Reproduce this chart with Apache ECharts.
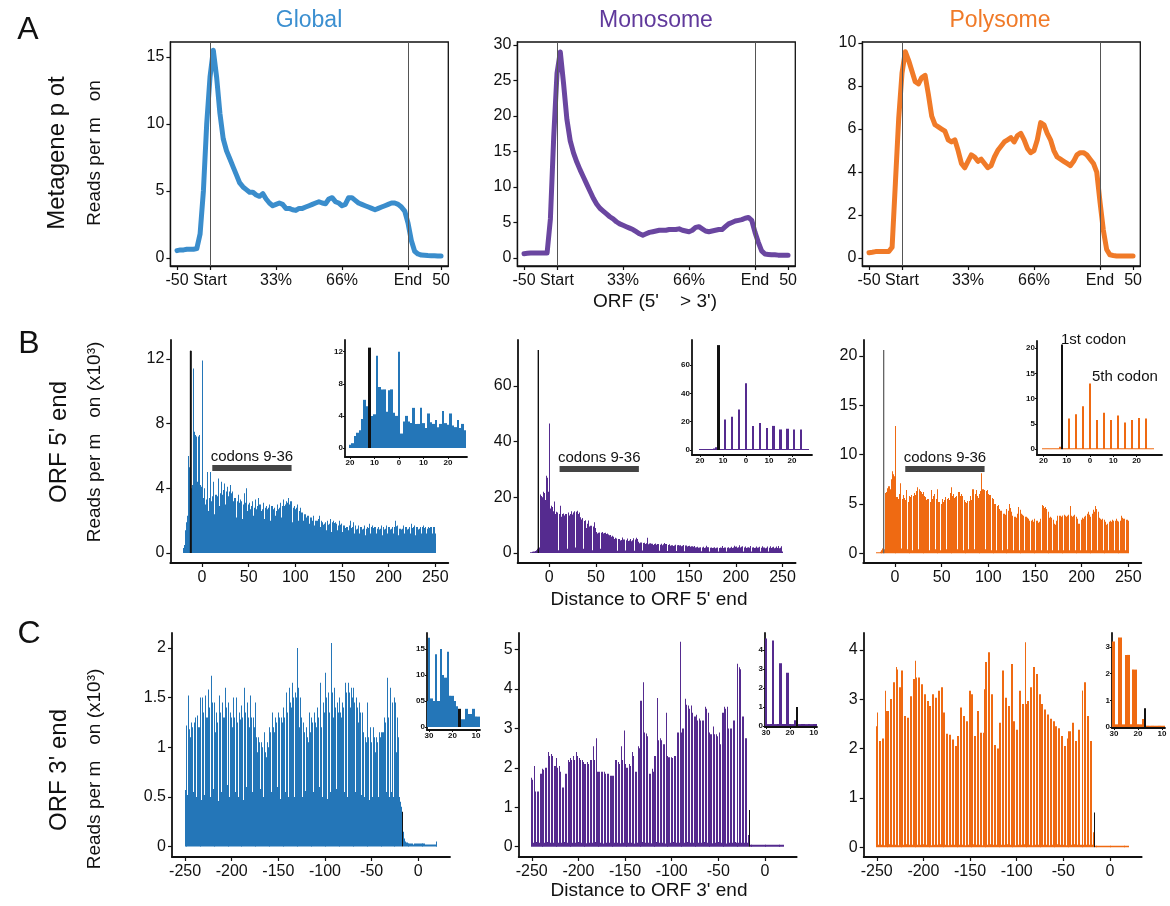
<!DOCTYPE html>
<html><head><meta charset="utf-8">
<script src="https://cdn.jsdelivr.net/npm/echarts@6/dist/echarts.min.js"></script>
<style>html,body{margin:0;padding:0;background:#fff}#c{width:1170px;height:906px}</style>
</head><body><div id="c"></div>
<script>
// ---------------- DATA ----------------
// Row A metagene profiles, x = -50..350 step 5 (Start=0, End=300)
const metaStart = -50, metaStep = 5;
const metaTicks = [-50, 0, 100, 200, 300, 350];
const metaTickLabels = ['-50', 'Start', '33%', '66%', 'End', '50'];
const metaGlobal = [0.55,0.6,0.6,0.65,0.65,0.65,0.7,1.8,5.0,10.0,
 13.5,15.5,13.5,10.8,8.9,8.0,7.4,6.8,6.2,5.6,
 5.3,5.1,4.9,4.9,4.7,4.6,4.8,4.4,4.1,3.9,
 4.0,4.1,4.0,3.7,3.7,3.6,3.55,3.7,3.7,3.8,
 3.9,4.0,4.1,4.2,4.1,4.05,4.4,4.5,4.2,4.1,
 3.9,4.0,4.5,4.5,4.3,4.1,4.0,3.9,3.8,3.7,
 3.6,3.7,3.8,3.9,4.0,4.1,4.1,4.0,3.8,3.5,
 2.6,1.3,0.5,0.3,0.22,0.2,0.18,0.17,0.16,0.15,0.15];
const metaMono = [0.6,0.65,0.7,0.7,0.7,0.7,0.7,0.7,5.5,17,
 26,29,24.5,19.5,16.5,14.8,13.5,12.4,11.4,10.4,
 9.4,8.4,7.6,7.0,6.6,6.2,5.8,5.5,5.1,4.8,
 4.6,4.4,4.2,4.0,3.7,3.4,3.2,3.4,3.6,3.7,
 3.8,3.9,3.9,3.9,4.0,4.0,4.0,4.1,3.9,3.8,
 3.7,3.9,4.3,4.4,4.1,3.8,3.7,3.8,3.9,4.0,
 4.0,4.4,4.8,5.0,5.2,5.3,5.4,5.6,5.7,5.3,
 3.6,2.2,1.0,0.55,0.5,0.45,0.45,0.4,0.4,0.4,0.4];
const metaPoly = [0.25,0.27,0.3,0.3,0.3,0.3,0.3,0.5,3.5,6.5,
 8.6,9.6,9.2,8.7,8.2,8.1,8.4,8.5,7.6,6.6,
 6.2,6.1,6.0,5.9,5.5,5.4,5.5,5.0,4.4,4.2,
 4.5,4.8,4.7,4.5,4.6,4.4,4.2,4.3,4.7,5.0,
 5.2,5.4,5.5,5.6,5.4,5.7,5.8,5.5,5.1,4.9,
 5.0,5.5,6.3,6.2,5.8,5.5,5.0,4.7,4.6,4.5,
 4.4,4.3,4.5,4.8,4.9,4.9,4.8,4.6,4.4,4.0,
 2.6,1.3,0.4,0.15,0.12,0.1,0.1,0.1,0.1,0.1,0.1];

// Row B: reads per nt, x = -20..250
const fiveStart = -20, fiveMarker = -12;
const fiveGlobal = [0.3,0.5,1.4,1.9,2.3,3.6,6.0,5.3,12.5,4.0,4.2,11.4,7.5,7.3,7.2,4.4,7.2,7.3,4.2,4.1,
 11.9,1.8,3.4, 4.0,3.0,3.3, 5.0,2.6,3.4, 5.0,3.2,3.5, 4.4,2.4,3.6, 3.6,3.0,3.5, 4.6,2.9,3.7, 4.4,3.6,3.9, 4.3,3.0,3.8, 4.1,3.5,3.8,
 4.2,2.9,3.7, 3.8,3.2,3.4, 3.4,2.2,3.2, 3.6,3.1,3.3, 3.2,2.1,3.0, 3.7,2.9,3.1, 4.0,2.6,3.0, 3.1,2.7,2.9, 3.2,2.3,2.8, 3.3,2.7,2.9,
 3.4,2.4,3.0, 3.0,2.6,2.7, 3.1,2.1,2.8, 2.9,2.7,2.8, 3.0,2.0,2.9, 2.9,2.6,2.7, 2.8,2.3,2.6, 3.0,2.7,2.8, 3.1,2.2,2.9, 3.3,2.9,3.0,
 3.2,2.4,3.1, 3.4,3.0,3.2, 3.2,1.9,2.8, 2.9,2.7,2.8, 3.0,2.0,2.6, 2.8,2.4,2.5, 2.5,2.0,2.4, 2.4,2.2,2.3, 2.3,1.8,2.2, 2.2,2.0,2.1,
 2.3,1.7,2.0, 2.0,2.0,2.1, 2.3,1.6,2.0, 1.9,1.75,1.8, 1.9,1.4,1.9, 2.0,1.75,1.8, 2.1,1.3,1.9, 2.0,1.85,1.9, 1.8,1.4,1.7, 2.0,1.75,1.8,
 1.8,1.3,1.7, 1.7,1.55,1.6, 1.6,1.4,1.7, 2.0,1.55,1.6, 1.9,1.2,1.7, 1.6,1.45,1.5, 1.7,1.2,1.6, 1.6,1.45,1.5, 1.7,1.1,1.5, 1.6,1.55,1.6,
 1.8,1.2,1.6, 1.7,1.55,1.6, 1.6,1.2,1.5, 1.6,1.45,1.5, 1.7,1.1,1.6, 1.5,1.45,1.5, 1.7,1.2,1.6, 1.6,1.45,1.5, 1.6,1.2,1.6, 2.0,1.65,1.7,
 1.6,1.1,1.5, 1.5,1.45,1.5, 1.7,1.2,1.6, 1.6,1.45,1.5, 1.6,1.2,1.6, 1.8,1.55,1.6, 1.7,1.1,1.6, 1.6,1.45,1.5, 1.6,1.2,1.6, 1.7,1.55,1.6,
 1.6,1.2,1.5, 1.6,1.55,1.6, 1.6,1.2,1.6, 1.6,1.2];
const fiveMono = [0.3,0.3,0.4,0.5,0.5,0.7,1.0,1.5,72.9,2.0,20.5,21.0,20.5,20.0,22.0,21.5,19.0,27.7,27.0,22.0,
 46.5,16.0,17.0, 16.5,15.0,15.5, 18.5,14.0,14.8, 14.5,1.0,14.0, 17.0,13.0,14.0, 14.2,13.5,14.0, 14.0,1.5,13.8, 14.5,13.5,14.0, 15.0,13.8,14.5, 15.0,2.0,14.8,
 15.2,14.0,14.5, 12.8,12.0,12.5, 12.5,1.5,11.5, 11.8,9.0,10.5, 11.7,9.5,9.8, 9.8,1.0,9.5, 11.0,8.0,9.0, 7.5,7.0,7.3, 7.4,1.5,7.3, 7.5,7.0,7.2,
 7.3,6.8,7.0, 6.6,1.0,6.4, 6.5,5.8,6.2, 5.8,5.0,5.5, 5.2,0.8,5.0, 5.0,4.5,4.7, 5.6,4.5,4.8, 4.8,0.9,4.6, 5.2,4.3,4.5, 5.0,4.2,4.6,
 5.3,0.8,4.8, 5.5,4.5,5.0, 4.0,3.5,3.8, 3.8,0.9,3.6, 3.7,3.2,3.5, 5.5,3.1,3.4, 3.5,0.8,3.3, 3.3,2.9,3.2, 3.4,3.0,3.2, 3.2,0.8,3.0,
 3.3,2.8,3.1, 3.6,2.9,3.2, 3.2,0.7,2.9, 3.1,2.6,2.8, 2.8,2.5,2.7, 3.0,0.7,2.8, 2.9,2.5,2.7, 2.8,2.4,2.6, 2.9,0.6,2.7, 2.7,2.3,2.5,
 2.6,2.2,2.4, 2.4,0.6,2.2, 2.5,2.0,2.1, 2.2,1.9,2.0, 2.1,0.6,2.0, 2.2,1.8,2.0, 2.6,1.9,2.1, 2.1,0.5,1.9, 2.0,1.8,1.9, 2.1,1.7,1.9,
 2.0,0.5,1.8, 2.0,1.7,1.9, 2.5,1.8,2.0, 2.0,0.5,1.9, 2.1,1.7,1.9, 2.2,1.8,2.0, 2.6,0.6,2.2, 2.3,1.9,2.1, 2.8,2.0,2.2, 2.4,0.5,2.0,
 2.3,1.8,2.0, 2.1,1.7,1.9, 2.5,0.5,2.0, 2.1,1.8,1.9, 2.3,1.9,2.0, 2.2,0.5,1.9, 2.4,1.8,2.0, 2.0,1.7,1.9, 2.3,0.5,1.9, 2.4,1.8,2.1,
 2.2,1.7,1.9, 2.3,0.5,1.8, 2.5,1.7,1.9, 2.4,0.5];
const fivePoly = [0.1,0.1,0.1,0.1,0.15,0.2,0.3,0.5,20.6,0.4,6.1,6.2,6.6,6.8,6.8,6.5,7.5,8.3,8.0,7.8,
 12.9,7.5,5.7, 5.7,5.5,6.0, 7.1,0.5,5.5, 5.9,5.6,5.4, 6.4,0.4,5.2, 5.8,5.5,5.7, 5.9,0.3,5.8, 6.1,5.9,6.3, 6.7,0.4,6.5, 6.3,6.2,6.0,
 6.2,0.4,5.8, 5.7,5.4,5.5, 5.5,0.3,5.2, 6.4,5.5,5.8, 6.0,0.4,5.5, 6.5,5.3,5.2, 5.2,0.3,5.0, 5.5,5.2,5.4, 5.7,0.4,5.5, 5.6,5.4,6.1,
 6.7,0.3,5.8, 6.0,5.6,5.7, 5.8,0.4,6.2, 6.2,5.8,6.0, 5.8,0.3,5.4, 5.2,5.0,5.1, 5.3,0.4,5.3, 5.8,5.4,6.5, 6.5,0.4,6.0, 6.4,5.8,5.6,
 6.0,0.3,6.3, 8.1,6.5,6.5, 6.4,0.4,6.3, 6.4,6.0,5.9, 5.9,0.3,5.6, 5.5,5.2,5.0, 5.0,0.3,4.8, 4.9,4.5,4.3, 4.3,0.3,4.0, 4.0,3.9,4.2,
 4.5,0.4,4.3, 5.0,4.6,4.2, 3.8,0.3,3.7, 3.7,3.6,4.0, 4.7,0.3,4.4, 4.2,4.0,3.9, 3.8,0.3,3.7, 3.7,3.6,3.5, 3.3,0.3,3.3, 3.4,3.2,3.3,
 3.5,0.3,3.3, 3.3,3.1,3.2, 3.5,0.3,4.9, 4.8,4.6,4.7, 4.5,0.3,4.2, 3.7,3.6,3.7, 3.6,0.3,3.4, 3.0,2.9,3.3, 3.8,0.3,3.8, 3.8,3.7,3.8,
 3.8,0.3,3.9, 3.8,3.7,3.8, 3.9,0.3,4.8, 3.8,3.7,3.8, 3.9,0.3,3.7, 3.6,3.5,3.0, 3.0,0.3,3.4, 3.6,3.5,3.7, 3.8,0.3,4.0, 4.2,3.9,3.6,
 3.7,0.3,4.0, 4.4,4.2,4.8, 4.5,0.3,4.2, 3.6,3.5,3.4, 3.5,0.3,3.3, 3.4,3.2,2.9, 3.0,0.3,3.2, 3.3,3.2,3.4, 3.3,0.3,3.3, 3.5,3.3,3.2,
 3.2,0.3,3.3, 3.8,3.6,3.5, 3.5,0.3,3.4, 3.4,3.3];

// Row C: reads per nt, x = -250..20
const threeStart = -250, threeMarker = -17;
const threeGlobal = [0.57,1.22,1.2, 0.52,1.52,1.18, 1.1,1.25,1.2, 0.55,1.25,1.3, 0.5,1.32,1.2, 1.2,1.5,1.3, 0.47,1.5,1.35, 0.52,1.52,1.3, 1.3,1.58,1.4, 0.5,1.72,1.45,
 0.58,1.45,1.25, 1.15,1.35,1.25, 0.46,1.52,1.35, 0.55,1.45,1.3, 1.3,1.6,1.4, 0.62,1.45,1.3, 0.5,1.35,1.3, 1.2,1.5,1.3, 0.55,1.5,1.25, 0.5,1.35,1.28,
 1.2,1.42,1.3, 0.47,1.6,1.35, 0.6,1.45,1.3, 1.2,1.52,1.3, 0.55,1.3,1.2, 0.45,1.45,1.1, 0.95,1.1,1.05, 0.58,1.05,1.0, 0.5,1.15,0.95, 0.9,1.05,1.0,
 0.52,1.2,1.15, 0.55,1.35,1.2, 1.15,1.3,1.25, 0.6,1.35,1.3, 0.48,1.3,1.25, 1.2,1.4,1.3, 0.55,1.55,1.35, 0.5,1.6,1.45, 1.4,1.65,1.5, 0.5,1.55,1.5,
 0.55,2.0,1.6, 1.2,1.5,1.3, 0.5,1.25,1.15, 0.56,1.2,1.1, 1.05,1.35,1.15, 0.45,1.3,1.25, 0.55,1.35,1.25, 1.2,1.4,1.3, 0.6,1.65,1.2, 0.5,1.45,1.35,
 1.4,1.75,1.5, 0.48,1.55,1.35, 0.55,2.05,1.55, 1.3,1.6,1.4, 0.58,1.45,1.35, 0.5,1.5,1.35, 1.3,1.45,1.4, 0.55,1.65,1.55, 0.5,1.65,1.55, 1.4,1.6,1.5,
 0.5,1.6,1.45, 0.55,1.5,1.4, 1.25,1.45,1.35, 0.52,1.35,1.15, 0.5,1.1,1.05, 1.0,1.45,1.1, 0.47,1.2,1.05, 0.5,1.2,1.1, 0.95,1.1,1.05, 0.5,1.15,1.1,
 0.52,1.15,1.15, 1.15,1.3,1.25, 0.55,1.7,1.3,
 0.5,1.6,0.55,1.45,0.5,1.3,1.5,1.45,0.95,1.3,1.1,0.5,0.45,0.4,0.35,0.15,0.08,0.05,0.04,0.04,0.03,0.03,
 0.03,0.03,0.03,0.03,0.02,0.03,0.03,0.03,0.03,0.03,0.03,0.03,0.03,0.03,0.03,0.03,0.03,0.02,0.02,0.02,0.02,0.02,0.02,0.02,0.02,0.02,0.02,0.02,0.04,0.05];
const threeMono = [1.75,1.7,0.1, 2.05,1.4,0.12, 1.4,1.4,0.1, 1.85,1.85,0.08, 1.98,1.95,0.1, 2.0,2.0,0.12, 2.4,2.3,0.1, 2.35,2.3,0.1, 2.05,2.05,0.09, 2.25,2.0,0.1,
 2.05,1.9,0.1, 1.5,1.5,0.12, 1.85,1.85,0.1, 2.2,2.15,0.08, 2.25,2.2,0.1, 2.3,2.2,0.1, 2.4,2.3,0.12, 2.25,2.2,0.1, 2.2,2.15,0.1, 2.1,2.1,0.09,
 2.15,2.1,0.1, 2.2,2.2,0.1, 2.55,2.2,0.12, 2.75,1.9,0.1, 1.9,1.9,0.1, 1.9,1.9,0.08, 1.9,1.85,0.1, 1.85,1.85,0.1, 1.8,1.8,0.12, 1.8,1.8,0.1,
 2.2,2.2,0.1, 2.15,2.1,0.09, 2.55,2.2,0.1, 2.95,2.1,0.12, 2.0,2.0,0.1, 2.1,2.05,0.1, 2.4,2.3,0.08, 1.9,1.9,0.1, 2.55,2.5,0.1, 3.7,3.7,0.12,
 4.17,2.9,0.1, 2.87,2.8,0.1, 1.85,1.85,0.09, 1.98,1.9,0.1, 2.3,2.3,0.12, 3.77,2.7,0.1, 2.75,2.7,0.1, 2.6,2.6,0.08, 3.4,2.3,0.1, 2.27,2.27,0.1,
 2.27,2.25,0.12, 2.3,2.3,0.1, 2.9,2.9,0.1, 5.2,2.9,0.09, 3.0,3.0,0.1, 3.75,3.6,0.12, 3.58,3.5,0.1, 3.58,3.4,0.1, 3.3,3.3,0.08, 3.35,3.2,0.1,
 3.25,3.2,0.1, 3.2,3.2,0.12, 3.55,3.5,0.1, 3.4,2.9,0.1, 2.85,2.85,0.09, 3.05,2.85,0.1, 2.85,2.8,0.12, 2.9,2.6,0.1, 3.4,3.4,0.1, 3.55,3.5,0.08,
 3.55,3.0,0.1, 3.0,3.0,0.1, 3.2,3.2,0.12,
 0.1,4.64,4.6,0.1,4.55,4.5,0.1,3.3,3.3,0.1,2.75,2.75,0.1,0.3,0.93,0.05,
 0.05,0.05,0.05,0.05,0.05,0.05,0.05,0.05,0.05,0.05,0.05,0.05,0.05,0.05,0.05,0.05,0.05,0.05,0.05,0.05,0.05,0.05,0.05,0.05,0.05,0.05,0.05,0.05,0.05,0.05,0.05,0.05,0.05,0.05,0.05,0.05];
const threePoly = [2.45,2.73,0.05, 2.15,2.15,0.05, 2.2,2.2,0.04, 3.17,2.76,0.05, 2.76,2.76,0.06, 3.0,3.0,0.05, 3.34,3.34,0.05, 3.65,3.6,0.04, 3.24,3.24,0.05, 3.58,3.58,0.05,
 2.66,2.66,0.06, 2.62,2.62,0.05, 3.06,3.06,0.05, 3.41,3.41,0.04, 3.78,3.44,0.05, 3.44,3.44,0.05, 3.3,3.3,0.06, 3.1,3.1,0.05, 2.96,2.96,0.05, 2.86,2.86,0.04,
 3.1,3.1,0.05, 3.03,3.03,0.05, 3.17,3.17,0.06, 3.24,3.24,0.05, 2.73,2.73,0.05, 2.3,2.3,0.04, 2.28,2.28,0.05, 2.18,2.18,0.05, 2.05,2.05,0.06, 2.25,2.25,0.05,
 2.83,2.83,0.05, 2.66,2.66,0.04, 2.55,2.55,0.05, 3.17,3.17,0.05, 3.1,3.1,0.06, 2.25,2.25,0.05, 2.76,2.76,0.05, 2.32,2.32,0.04, 2.32,3.2,0.05, 3.75,3.75,0.05,
 3.95,3.95,0.06, 3.1,3.1,0.05, 2.07,2.07,0.05, 2.0,2.0,0.04, 2.52,2.52,0.05, 3.58,3.58,0.05, 3.03,3.03,0.06, 2.86,2.86,0.05, 3.71,3.71,0.05, 2.55,2.55,0.04,
 2.38,2.38,0.05, 3.17,3.17,0.05, 2.9,2.9,0.06, 4.15,2.9,0.05, 2.96,2.96,0.05, 3.24,3.24,0.04, 3.65,3.65,0.05, 3.51,3.51,0.05, 3.1,3.1,0.06, 2.9,2.9,0.05,
 2.79,2.79,0.05, 2.69,2.69,0.04, 2.6,2.6,0.05, 2.55,2.55,0.05, 2.45,2.45,0.06, 2.41,2.41,0.05, 2.25,2.25,0.05, 2.05,2.05,0.04, 2.2,2.35,0.05, 2.35,2.35,0.05,
 2.52,2.52,0.06, 2.15,2.15,0.05, 2.38,2.38,0.05,
 0.05,3.17,3.17,0.05,3.34,3.34,0.05,2.66,2.66,0.05,2.15,2.15,0.05,0.3,0.7,0.03,
 0.03,0.03,0.03,0.03,0.03,0.03,0.03,0.03,0.03,0.03,0.03,0.03,0.03,0.03,0.03,0.03,0.03,0.03,0.03,0.03,0.03,0.03,0.03,0.03,0.03,0.03,0.03,0.03,0.03,0.03,0.03,0.03,0.03,0.03,0.03,0.03];

// Insets, row B: x = -20..27 ; row C: x = -31..-9
const insFiveStart = -20, insThreeStart = -31;
const insFiveGlobal = [0.4,0.6,1.5,1.9,2.2,3.6,6.0,5.2,12.5,4.0,4.2,11.5,7.6,7.3,7.3,4.5,7.2,7.3,4.4,4.0,
 12.0,1.8,3.3,4.0,3.3,3.1,5.0,3.0,3.0,5.0,3.1,2.5,4.3,3.2,3.0,3.5,2.6,3.0,4.6,3.1,2.9,4.3,2.8,2.6,3.5,2.5,3.0,2.2];
const insFiveMono = [0.7,0.7,0.7,0.7,0.7,0.7,1.0,2.0,74,
 0.7,0.7,21.5, 0.7,0.7,23.5, 0.7,0.7,28.6, 0.7,0.7,47.0, 0.7,0.7,16.9, 0.7,0.7,19.0, 0.7,0.7,15.5, 0.7,0.7,17.0, 0.7,0.7,14.5, 0.7,0.7,15.0, 0.7,0.7,14.5, 0.7,0.7,14.5, 0.7,0.7,0.7];
const insFivePoly = [0.2,0.2,0.2,0.2,0.2,0.2,0.2,0.5,20.7,
 0.2,0.2,6.1, 0.2,0.2,6.9, 0.2,0.2,8.5, 0.2,0.2,13.0, 0.2,0.2,5.8, 0.2,0.2,7.2, 0.2,0.2,5.8, 0.2,0.2,6.7, 0.2,0.2,5.3, 0.2,0.2,5.8, 0.2,0.2,6.2, 0.2,0.2,6.1, 0.2,0.2,0.2];
const insThreeGlobal = [0.5,1.72,0.55,0.5,1.4,0.5,1.5,1.0,0.95,1.45,0.6,0.6,0.5,0.4,0.35,0.15,0.15,0.35,0.25,0.25,0.35,0.2,0.2];
const insThreeMono = [0.1,4.6,0.1,0.1,4.5,0.1,0.1,3.3,0.1,0.1,2.8,0.1,0.1,0.3,1.0,0.1,0.1,0.1,0.1,0.1,0.1,0.1,0.1];
const insThreePoly = [3.2,3.2,0.1,3.35,3.35,0.1,2.7,2.7,0.1,2.15,2.15,0.1,0.1,0.3,0.7,0.05,0.05,0.05,0.05,0.05,0.05,0.05,0.05];

// Codons 9-36 annotation extent (nt) and heights
const codonSpan = [11, 96];
const codonBarY = [5.25, 30.2, 8.55];

// ---------------- CHART ----------------
const FONT = '"Liberation Sans", Arial, Helvetica, sans-serif';
const INK = '#111';
const C_GLOBAL = '#2476b8', C_MONO = '#552b8f', C_POLY = '#ef6a12';
const L_GLOBAL = '#3a8dcc', L_MONO = '#6a46a0', L_POLY = '#f07a28';

function grid(l, t, w, h, box) {
  return {left: l, top: t, width: w, height: h, show: !!box, borderColor: INK, borderWidth: box ? 1.3 : 0, containLabel: false};
}
function axis(gi, min, max, ticks, fmt, o) {
  o = o || {};
  return {
    type: 'value', gridIndex: gi, min: min, max: max,
    axisLine: {show: true, onZero: false, lineStyle: {color: INK, width: o.lw || 1.8}},
    axisTick: {show: true, customValues: ticks, length: o.tl || 4, lineStyle: {color: INK, width: o.tw || 1.2}},
    axisLabel: {show: true, customValues: ticks, formatter: fmt || (v => String(v)), fontSize: o.fs || 16,
      fontFamily: FONT, color: INK, margin: o.m || 6, fontWeight: o.fw || 'normal', hideOverlap: false},
    splitLine: {show: false}
  };
}
const metaFmt = v => { const i = metaTicks.indexOf(v); return i >= 0 ? metaTickLabels[i] : ''; };
const absFmt = v => String(Math.abs(v));

const grids = [
  grid(170.4, 42, 277.9, 224, true), grid(517.4, 42, 277.9, 224, true), grid(862.4, 42, 277.9, 224, true),
  grid(170.3, 340, 278, 223), grid(517.6, 340, 278, 223), grid(863.3, 340, 278, 223),
  grid(172, 633, 278, 224), grid(518.7, 633, 278, 224), grid(863.7, 633, 278, 224),
  grid(345, 340, 122, 117), grid(692, 340, 120, 115), grid(1037, 341, 125, 114),
  grid(427, 633, 53, 97), grid(765, 633, 52, 94), grid(1112, 633, 53, 95)
];
const ins = {fs: 8, fw: 'bold', m: 2, tl: 2, lw: 1.8, tw: 1};
const rowBx = [0, 50, 100, 150, 200, 250];
const rowCx = [-250, -200, -150, -100, -50, 0];
const xAxes = [
  axis(0, -60, 361, metaTicks, metaFmt, {lw: 1.3, m: 7}), axis(1, -60, 361, metaTicks, metaFmt, {lw: 1.3, m: 7}), axis(2, -60, 361, metaTicks, metaFmt, {lw: 1.3, m: 7}),
  axis(3, -34, 264, rowBx, null, {m: 7}), axis(4, -34, 264, rowBx, null, {m: 7}), axis(5, -34, 264, rowBx, null, {m: 7}),
  axis(6, -264, 34, rowCx, null, {m: 7}), axis(7, -264, 34, rowCx, null, {m: 7}), axis(8, -264, 34, rowCx, null, {m: 7}),
  axis(9, -22.04, 27.76, [-20, -10, 0, 10, 20], absFmt, ins), axis(10, -23.5, 28.7, [-20, -10, 0, 10, 20], absFmt, ins), axis(11, -22.75, 30.9, [-20, -10, 0, 10, 20], absFmt, ins),
  axis(12, -30.85, -8.3, [-30, -20, -10], absFmt, ins), axis(13, -30.44, -8.67, [-30, -20, -10], absFmt, ins), axis(14, -30.83, -8.75, [-30, -20, -10], absFmt, ins)
];
const halfFmt = v => ({0: '0', 0.5: '05', 1: '10', 1.5: '15'})[v];
const yAxes = [
  axis(0, -0.6, 16.12, [0, 5, 10, 15], null, {lw: 1.3}), axis(1, -1.13, 30.4, [0, 5, 10, 15, 20, 25, 30], null, {lw: 1.3}), axis(2, -0.37, 10.05, [0, 2, 4, 6, 8, 10], null, {lw: 1.3}),
  axis(3, -0.62, 13.17, [0, 4, 8, 12]), axis(4, -3.6, 76.5, [0, 20, 40, 60]), axis(5, -0.98, 21.6, [0, 5, 10, 15, 20]),
  axis(6, -0.105, 2.15, [0, 0.5, 1, 1.5, 2]), axis(7, -0.26, 5.42, [0, 1, 2, 3, 4, 5]), axis(8, -0.2, 4.34, [0, 1, 2, 3, 4]),
  axis(9, -1.12, 13.45, [0, 4, 8, 12], null, ins), axis(10, -3.53, 77.6, [0, 20, 40, 60], null, ins), axis(11, -1.13, 21.4, [0, 5, 10, 15, 20], null, ins),
  axis(12, -0.058, 1.81, [0, 0.5, 1, 1.5], halfFmt, ins), axis(13, -0.053, 4.89, [0, 1, 2, 3, 4], null, ins), axis(14, -0.037, 3.52, [0, 1, 2, 3], null, ins)
];

function lineSeries(idx, arr, color) {
  return {
    type: 'line', xAxisIndex: idx, yAxisIndex: idx, silent: true, animation: false,
    data: arr.map((v, i) => [metaStart + metaStep * i, v]),
    symbol: 'none', showSymbol: false, smooth: false,
    lineStyle: {width: 5, color: color, cap: 'round', join: 'round'}, itemStyle: {color: color},
    markLine: {silent: true, symbol: ['none', 'none'], label: {show: false}, animation: false,
      lineStyle: {color: '#555', width: 1, type: 'solid'}, emphasis: {disabled: true},
      data: [{xAxis: 0}, {xAxis: 300}]}
  };
}
// Per-nucleotide histogram: each nt bin spans [x-0.5, x+0.5], edges snapped to whole pixels
function histSeries(idx, arr, start, color, marker, markerColor) {
  return {
    type: 'custom', xAxisIndex: idx, yAxisIndex: idx, silent: true, animation: false, clip: true,
    data: arr.map((v, i) => [start + i, v]), encode: {x: 0, y: 1},
    renderItem: function (params, api) {
      const x = api.value(0), y = api.value(1);
      const tl = api.coord([x - 0.5, y]);
      const br = api.coord([x + 0.5, 0]);
      const l = Math.round(tl[0]);
      const r = Math.max(l + 1, Math.round(br[0]));
      return {type: 'rect', shape: {x: l, y: tl[1], width: r - l, height: br[1] - tl[1]},
        style: {fill: x === marker ? markerColor : color}};
    }
  };
}
// Marker bar (first/last P-site codon) taken from the same array; carries the codon annotation
function markerSeries(idx, arr, start, marker, color, bw, extra) {
  const s = {type: 'bar', xAxisIndex: idx, yAxisIndex: idx, silent: true, animation: false, z: 4,
    data: [[marker, arr[marker - start]]], barWidth: bw, itemStyle: {color: color}};
  return Object.assign(s, extra || {});
}
function codonMark(y) {
  return {markLine: {silent: true, symbol: ['none', 'none'], animation: false, emphasis: {disabled: true},
    lineStyle: {color: '#444', width: 6, type: 'solid', cap: 'butt'},
    label: {show: true, position: 'insideMiddleTop', formatter: 'codons 9-36', color: INK, fontSize: 15, fontFamily: FONT, distance: 4},
    data: [[{coord: [codonSpan[0], y]}, {coord: [codonSpan[1], y]}]]}};
}

const series = [
  lineSeries(0, metaGlobal, L_GLOBAL), lineSeries(1, metaMono, L_MONO), lineSeries(2, metaPoly, L_POLY),
  histSeries(3, fiveGlobal, fiveStart, C_GLOBAL, fiveMarker, '#111'),
  histSeries(4, fiveMono, fiveStart, C_MONO, fiveMarker, '#111'),
  histSeries(5, fivePoly, fiveStart, C_POLY, fiveMarker, '#666'),
  histSeries(6, threeGlobal, threeStart, C_GLOBAL, threeMarker, '#111'),
  histSeries(7, threeMono, threeStart, C_MONO, threeMarker, '#111'),
  histSeries(8, threePoly, threeStart, C_POLY, threeMarker, '#111'),
  markerSeries(3, fiveGlobal, fiveStart, fiveMarker, '#111', 2, codonMark(codonBarY[0])),
  markerSeries(4, fiveMono, fiveStart, fiveMarker, '#111', 1, codonMark(codonBarY[1])),
  markerSeries(5, fivePoly, fiveStart, fiveMarker, '#666', 1, codonMark(codonBarY[2])),
  histSeries(9, insFiveGlobal, insFiveStart, C_GLOBAL, fiveMarker, '#111'),
  histSeries(10, insFiveMono, insFiveStart, C_MONO, fiveMarker, '#111'),
  histSeries(11, insFivePoly, insFiveStart, C_POLY, fiveMarker, '#111'),
  histSeries(12, insThreeGlobal, insThreeStart, C_GLOBAL, threeMarker, '#111'),
  histSeries(13, insThreeMono, insThreeStart, C_MONO, threeMarker, '#111'),
  histSeries(14, insThreePoly, insThreeStart, C_POLY, threeMarker, '#111')
];

function txt(x, y, s, size, color, align, rot) {
  return {type: 'text', x: x, y: y, rotation: rot || 0, silent: true,
    style: {text: s, fill: color || INK, font: size + 'px ' + FONT,
      textAlign: align || 'center', textVerticalAlign: 'middle', align: align || 'center', verticalAlign: 'middle'}};
}
const R = Math.PI / 2;
const graphics = [
  txt(28, 30, 'A', 32), txt(29, 344, 'B', 32), txt(29, 634, 'C', 32),
  txt(309, 21, 'Global', 23, '#3b8fd0'), txt(656, 21, 'Monosome', 23, '#60399b'), txt(1000, 21, 'Polysome', 23, '#f07a28'),
  txt(57, 153, 'Metagene p ot', 24, INK, 'center', R), txt(95, 153, 'Reads per m   on', 19, INK, 'center', R),
  txt(59, 442, "ORF 5' end", 24, INK, 'center', R), txt(95, 442, 'Reads per m   on (x10³)', 19, INK, 'center', R),
  txt(59, 770, "ORF 3' end", 24, INK, 'center', R), txt(95, 769, 'Reads per m   on (x10³)', 19, INK, 'center', R),
  txt(655, 302, "ORF (5'    > 3')", 19), txt(649, 600, "Distance to ORF 5' end", 19), txt(649, 891, "Distance to ORF 3' end", 19),
  txt(1061, 340, '1st codon', 15, INK, 'left'), txt(1092, 377, '5th codon', 15, INK, 'left')
];

const chart = echarts.init(document.getElementById('c'));
chart.setOption({
  animation: false, backgroundColor: '#fff',
  textStyle: {fontFamily: FONT},
  grid: grids, xAxis: xAxes, yAxis: yAxes, series: series, graphic: graphics
});
</script></body></html>
